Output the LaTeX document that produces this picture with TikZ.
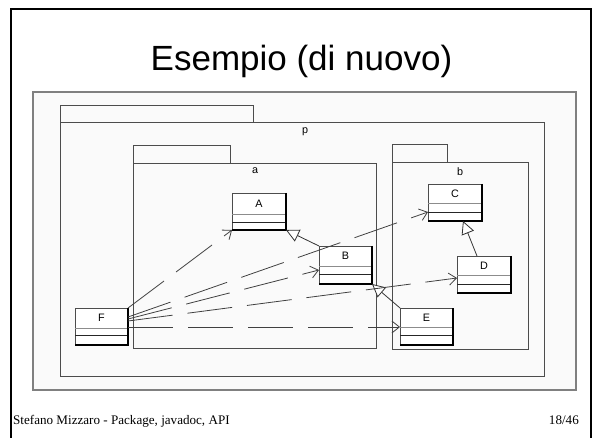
\documentclass[tikz,border=0pt]{standalone}
\usepackage{fontspec}
\setmainfont{Liberation Sans}
\newfontfamily\timesfont{Liberation Serif}
\usetikzlibrary{arrows.meta,calc}
\newcommand\umlcls[8]{%
  \node[cls, minimum width={#5-#3}, minimum height={#6-#4}] (#1) at ({(#3+#5)/2},{(#4+#6)/2}) {};
  \draw[black!45, line width=0.9pt] (#3,#7) -- (#5,#7);
  \draw[black!85, line width=0.9pt] (#3,#8) -- (#5,#8);
  \draw[black, line width=1.3pt] (#1.north east) -- (#1.south east) -- (#1.south west);
  \node[lbl] (#1-l) at ({(#3+#5)/2},{(#4+#7)/2}) {#2};
}
\begin{document}
\begin{tikzpicture}[x=1pt,y=-1pt,
  cls/.style={draw=black!70, fill=white, line width=0.8pt, inner sep=0pt, outer sep=0pt, rectangle},
  pkg/.style={draw=black!70, fill=black!2, line width=0.8pt, inner sep=0pt, outer sep=0pt, rectangle},
  lbl/.style={font=\fontsize{10.8}{12}\selectfont, inner sep=0pt},
  dep/.style={draw=black!75, line width=0.8pt, dash pattern=on 45pt off 15pt, -{Straight Barb[length=7.5pt,width=12pt]}},
  gen/.style={draw=black!80, line width=0.8pt, -{Triangle[open, length=13pt, width=13pt, fill=white]}},
]
\useasboundingbox (0,0) rectangle (594,438);
\fill[white] (0,0) rectangle (594,438);
% slide border
\draw[line width=2pt] (11,445) -- (11,9) -- (591,9) -- (591,445);
% title
\node[font=\fontsize{35}{40}\selectfont, anchor=base, inner sep=0pt] (title) at (301.5,71) {Esempio (di nuovo)};
% diagram frame
\node[draw=black!50, fill=black!2, line width=1.3pt, minimum width=543pt, minimum height=298pt, inner sep=0pt] (frame) at (304.5,241) {};
% package p
\node[pkg, minimum width=193pt, minimum height=17pt] (ptab) at (156.5,113.5) {};
\node[pkg, minimum width=484pt, minimum height=254pt] (p) at (302,249) {};
\node[lbl] (plabel) at (305,132) {p};
% package a
\node[pkg, minimum width=97pt, minimum height=18pt] (atab) at (181.5,154) {};
\node[pkg, minimum width=243pt, minimum height=185pt] (a) at (254.5,255.5) {};
\node[lbl] (alabel) at (255,171) {a};
% package b
\node[pkg, minimum width=55pt, minimum height=18pt] (btab) at (419.5,153) {};
\node[pkg, minimum width=136pt, minimum height=187pt] (b) at (460,255.5) {};
\node[lbl] (blabel) at (460,172) {b};
% classes
\umlcls{A}{A}{232}{193}{286}{230}{214}{222}
\umlcls{B}{B}{319}{246}{372}{284}{266}{274}
\umlcls{C}{C}{428}{184}{482}{221}{203}{212}
\umlcls{D}{D}{457}{256}{511}{293}{275}{284}
\umlcls{E}{E}{400}{308}{453}{345}{327}{335}
\umlcls{F}{F}{75}{308}{128}{345}{328}{335}
% generalizations
\draw[gen] (B.north west) -- (A.south east);
\draw[gen] (E.north west) -- (B.south east);
\draw[gen] ($(D.north west)+(20,0)$) -- ($(C.south west)+(35,0)$);
% dependencies
\draw[dep] (F.north east) -- (A.south west);
\draw[dep] ($(F.east)+(0,-9.5)$) -- ($(C.west)+(0,9.5)$);
\draw[dep] ($(F.east)+(0,-7.5)$) -- ($(B.west)+(0,5)$);
\draw[dep] ($(F.east)+(0,-5.5)$) -- ($(D.west)+(0,3.5)$);
\draw[dep] ($(F.east)+(0,0.5)$) -- ($(E.west)+(0,0.5)$);
% footer
\node[font=\timesfont\fontsize{13.1}{15}\selectfont, anchor=base west, inner sep=0pt] (foot) at (13,424) {Stefano Mizzaro - Package, javadoc, API};
\node[font=\timesfont\fontsize{13.1}{15}\selectfont, anchor=base east, inner sep=0pt] (page) at (579,424) {18/46};
\end{tikzpicture}
\end{document}
